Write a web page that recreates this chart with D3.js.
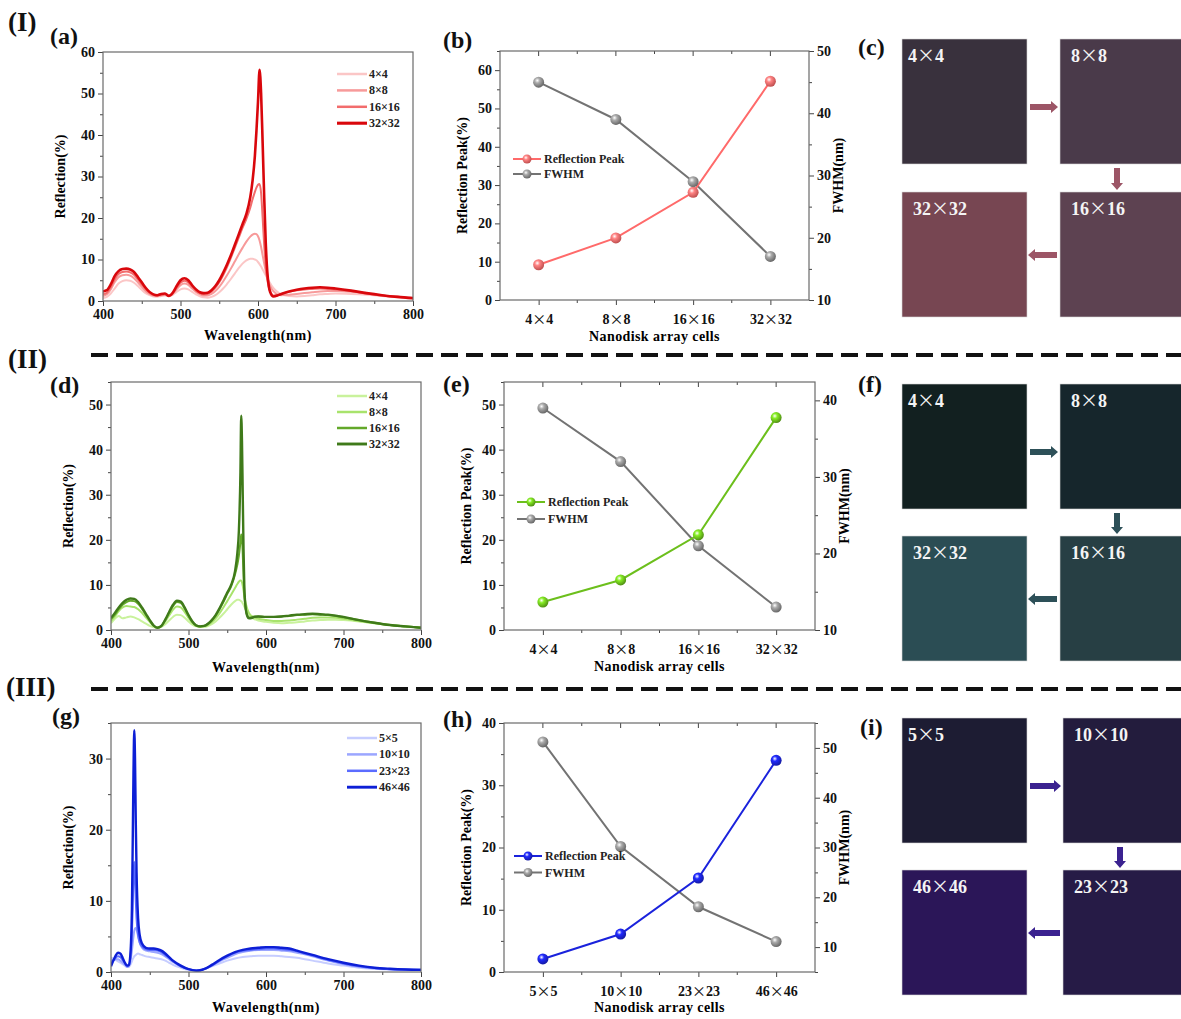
<!DOCTYPE html>
<html><head><meta charset="utf-8">
<script src="https://cdn.jsdelivr.net/npm/d3@7"></script>
<style>
body{margin:0;background:#fff}
svg{display:block}
text{font-family:"Liberation Serif","Times New Roman",serif;font-weight:bold}
</style>
</head><body>
<svg id="fig" width="1181" height="1019"></svg>
<script>
// ================= DATA =================
// Panel (a) – red spectra
const wlA = [400,405,410,415,420,425,430,435,440,445,450,455,460,465,470,475,480,485,490,495,500,505,510,515,520,525,530,535,540,545,550,555,560,565,570,575,580,585,590,593,596,598,600,602,604,606,608,610,612,614,616,618,620,625,630,640,650,660,670,680,690,700,720,740,760,780,800];
const a4  = [0.7,1.0,1.8,3.0,4.2,4.8,5.0,4.9,4.4,3.6,2.7,1.9,1.4,1.1,1.0,1.2,1.3,1.2,1.5,2.2,2.8,3.0,2.8,2.2,1.6,1.1,0.9,0.8,1.0,1.4,2.1,3.0,4.1,5.3,6.6,7.9,9.0,9.8,10.2,10.2,10.0,9.8,9.4,8.9,8.3,7.6,6.9,6.2,5.5,4.8,4.2,3.6,3.1,2.2,1.6,1.2,1.1,1.2,1.4,1.6,1.7,1.8,1.7,1.5,1.2,0.9,0.6];
const a8  = [1.2,1.6,2.8,4.5,5.7,6.2,6.3,6.1,5.5,4.5,3.4,2.4,1.7,1.3,1.2,1.4,1.5,1.3,1.7,2.8,3.8,4.2,3.9,3.0,2.2,1.6,1.3,1.3,1.7,2.4,3.4,4.7,6.2,7.8,9.5,11.2,12.8,14.3,15.5,16.0,16.2,16.1,15.6,14.6,13.0,11.0,9.0,7.2,5.6,4.4,3.5,2.8,2.3,1.6,1.4,1.5,1.7,1.9,2.1,2.3,2.4,2.4,2.2,1.8,1.3,1.0,0.7];
const a16 = [1.6,2.0,3.3,5.2,6.5,7.0,7.1,6.9,6.3,5.2,4.0,2.9,2.0,1.5,1.3,1.5,1.6,1.3,1.9,3.2,4.4,4.9,4.5,3.5,2.5,1.9,1.6,1.7,2.3,3.2,4.5,6.2,8.2,10.4,12.8,15.2,17.6,19.8,22.5,24.5,26.3,27.3,28.0,28.2,26.0,20.0,13.5,8.5,5.2,3.3,2.2,1.6,1.3,1.4,1.7,2.2,2.6,2.8,2.9,3.0,2.9,2.8,2.4,1.8,1.3,1.0,0.7];
const a32 = [2.3,2.6,4.0,6.0,7.2,7.7,7.8,7.6,7.0,5.8,4.5,3.2,2.2,1.6,1.4,1.7,1.8,1.2,2.0,3.6,5.0,5.5,5.0,3.8,2.8,2.1,1.9,2.0,2.6,3.6,5.0,6.8,8.8,11.0,13.5,16.0,18.5,21.0,25.0,29.0,35.0,41.0,48.0,55.7,50.0,38.0,25.0,14.0,7.0,3.5,2.0,1.3,1.1,1.3,1.7,2.3,2.7,3.0,3.2,3.3,3.2,3.0,2.5,1.9,1.4,1.0,0.7];
const namesA = ["4×4","8×8","16×16","32×32"];

// Panel (d) – green spectra
const wlD = [400,405,410,415,420,425,430,435,440,445,450,455,460,465,470,475,480,485,490,495,500,505,510,515,520,525,530,535,540,545,550,555,560,563,565,567,568,569,570,571,572,574,576,578,580,585,590,600,610,620,630,640,650,660,670,680,690,700,720,740,760,780,800];
const d4  = [1.5,2.5,3.1,2.6,2.8,3.0,2.8,2.4,1.9,1.4,0.9,0.6,0.5,0.7,1.3,2.1,2.9,3.4,3.3,2.7,1.9,1.2,0.8,0.7,0.7,0.9,1.3,1.9,2.7,3.6,4.6,5.6,6.4,6.7,6.7,6.5,6.4,6.2,5.9,5.6,5.2,4.5,3.9,3.4,3.0,2.4,2.1,1.8,1.6,1.5,1.6,1.7,1.9,2.1,2.2,2.3,2.3,2.2,1.9,1.5,1.1,0.8,0.5];
const d8  = [2.0,3.0,4.2,5.0,5.3,5.2,5.1,4.6,3.8,2.8,1.8,0.9,0.5,0.8,1.9,3.2,4.5,5.2,5.0,4.0,2.7,1.6,0.9,0.7,0.8,1.1,1.7,2.6,3.7,5.0,6.4,7.8,9.3,10.2,10.7,11.0,11.0,10.6,9.8,8.8,7.6,5.8,4.6,3.8,3.3,2.8,2.5,2.2,2.0,2.0,2.1,2.3,2.5,2.7,2.8,2.8,2.7,2.5,2.0,1.5,1.1,0.8,0.5];
const d16 = [2.4,3.4,4.6,5.6,6.2,6.5,6.4,5.8,4.7,3.4,2.1,1.0,0.5,0.9,2.2,3.8,5.3,6.2,6.0,4.8,3.2,1.8,1.0,0.8,0.9,1.3,2.1,3.2,4.6,6.2,8.0,9.7,12.3,14.5,16.5,19.5,21.2,20.5,17.0,12.0,8.0,4.5,3.2,2.8,2.8,3.0,3.0,2.9,2.9,3.0,3.1,3.3,3.4,3.5,3.4,3.3,3.1,2.8,2.2,1.6,1.1,0.8,0.5];
const d32 = [2.7,3.8,5.0,6.0,6.7,7.0,6.9,6.2,5.0,3.6,2.2,1.0,0.5,0.9,2.3,4.0,5.6,6.5,6.3,5.0,3.3,1.9,1.0,0.8,0.9,1.4,2.2,3.3,4.8,6.5,8.3,10.0,13.0,17.0,22.0,35.0,47.5,42.0,30.0,18.0,10.0,4.5,3.0,2.6,2.6,2.9,3.0,2.9,2.9,3.0,3.2,3.4,3.5,3.6,3.5,3.4,3.2,2.9,2.2,1.6,1.1,0.8,0.5];
const namesD = ["4×4","8×8","16×16","32×32"];

// Panel (g) – blue spectra
const wlG = [400,403,406,409,412,415,418,421,423,425,427,428,429,430,431,432,433,435,437,440,445,450,455,460,465,470,475,480,490,500,510,515,520,530,540,550,560,570,580,590,600,610,620,630,640,650,660,680,700,720,740,760,780,800];
const g5  = [2.0,1.9,1.7,1.5,1.3,1.1,0.9,0.7,0.7,1.0,1.5,1.8,2.0,2.2,2.3,2.4,2.5,2.6,2.5,2.4,2.2,2.1,2.0,1.9,1.8,1.6,1.3,1.0,0.6,0.3,0.2,0.25,0.4,0.8,1.2,1.6,1.9,2.1,2.2,2.3,2.3,2.3,2.2,2.1,2.0,1.8,1.6,1.2,0.9,0.6,0.45,0.35,0.3,0.3];
const g10 = [1.6,1.7,1.8,1.8,1.6,1.3,1.0,0.7,0.8,1.5,3.0,4.0,5.0,5.8,6.1,6.2,6.0,5.0,4.1,3.4,3.0,2.9,2.8,2.7,2.5,2.2,1.8,1.4,0.8,0.4,0.2,0.25,0.4,0.9,1.5,2.0,2.5,2.8,3.0,3.1,3.1,3.1,3.0,2.9,2.7,2.5,2.2,1.6,1.1,0.75,0.5,0.4,0.35,0.3];
const g23 = [1.2,1.6,2.0,2.2,2.1,1.7,1.2,0.8,0.9,2.0,5.5,9.0,13.5,15.5,13.5,10.0,7.5,5.2,4.2,3.6,3.2,3.1,3.1,3.0,2.8,2.4,2.0,1.5,0.8,0.4,0.2,0.25,0.4,0.9,1.6,2.2,2.7,3.0,3.1,3.2,3.3,3.3,3.2,3.1,2.9,2.6,2.3,1.7,1.2,0.8,0.55,0.4,0.35,0.3];
const g46 = [0.8,1.6,2.3,2.7,2.6,2.0,1.3,0.9,1.0,2.5,9.0,18.0,28.0,34.0,30.0,21.0,14.0,7.5,5.2,4.0,3.4,3.3,3.3,3.2,3.0,2.6,2.1,1.6,0.9,0.4,0.2,0.25,0.4,1.0,1.7,2.3,2.8,3.1,3.3,3.4,3.5,3.5,3.4,3.3,3.0,2.7,2.4,1.8,1.3,0.9,0.6,0.45,0.35,0.3];
const namesG = ["5×5","10×10","23×23","46×46"];

// Panels (b), (e), (h) – reflection peak & FWHM
const catsB = ["4×4","8×8","16×16","32×32"];
const peakB = [9.2,16.2,28.1,57.1];
const fwhmB = [45,39,29,17];
const catsE = ["4×4","8×8","16×16","32×32"];
const peakE = [6.2,11.1,21.1,47.1];
const fwhmE = [39,32,21,13];
const catsH = ["5×5","10×10","23×23","46×46"];
const peakH = [2.1,6.1,15.1,34.0];
const fwhmH = [51.2,30.2,18.1,11.1];

// Panels (c), (f), (i) – colour squares (order: top-left, top-right, bottom-right, bottom-left)
const squaresC = ["4×4","8×8","16×16","32×32"];
const squaresF = ["4×4","8×8","16×16","32×32"];
const squaresI = ["5×5","10×10","23×23","46×46"];

// ================= DRAWING =================
const svg = d3.select("#fig");
const defs = svg.append("defs");
const AX = "#444";

// write "A×B" with a wide (CJK) multiplication sign
function wideTimes(textSel, str){
  textSel.text(null);
  const parts = str.split("×");
  parts.forEach((p,i)=>{
    textSel.append("tspan").text(p);
    if(i<parts.length-1) textSel.append("tspan")
      .attr("font-family","Noto Sans CJK SC").attr("font-weight","normal").text("×");
  });
}

function styleAxis(sel, size){
  sel.attr("font-family","Liberation Serif, Times New Roman, serif")
     .attr("font-weight","bold").attr("font-size",size||14);
  sel.select(".domain").remove();
  sel.selectAll(".tick line").attr("stroke",AX).attr("stroke-width",1);
  sel.selectAll(".tick text").attr("fill","#111");
}

function spectrum(cfg){
  const g = svg.append("g");
  const x = d3.scaleLinear().domain([400,800]).range([cfg.x0,cfg.x1]);
  const y = d3.scaleLinear().domain(cfg.yDom).range([cfg.y1,cfg.y0]);
  g.append("g").attr("transform",`translate(0,${cfg.y1})`)
    .call(d3.axisBottom(x).tickValues([450,550,650,750]).tickSize(3).tickFormat(""))
    .call(s=>styleAxis(s));
  g.append("g").attr("transform",`translate(0,${cfg.y1})`)
    .call(d3.axisBottom(x).tickValues([400,500,600,700,800]).tickSize(5).tickPadding(3).tickFormat(d3.format("d")))
    .call(s=>styleAxis(s));
  const maxT = cfg.yDom[1];
  g.append("g").attr("transform",`translate(${cfg.x0},0)`)
    .call(d3.axisLeft(y).tickValues(d3.range(5,maxT+0.01,10)).tickSize(3).tickFormat(""))
    .call(s=>styleAxis(s));
  g.append("g").attr("transform",`translate(${cfg.x0},0)`)
    .call(d3.axisLeft(y).tickValues(d3.range(0,maxT+0.01,10)).tickSize(5).tickPadding(3).tickFormat(d3.format("d")))
    .call(s=>styleAxis(s));
  const clipId = "clip"+cfg.id;
  defs.append("clipPath").attr("id",clipId).append("rect")
    .attr("x",cfg.x0).attr("y",cfg.y0).attr("width",cfg.x1-cfg.x0).attr("height",cfg.y1-cfg.y0);
  const line = d3.line().x(d=>x(d[0])).y(d=>y(d[1])).curve(d3.curveMonotoneX);
  cfg.series.forEach((s,i)=>{
    g.append("path").attr("clip-path",`url(#${clipId})`)
      .datum(cfg.wl.map((w,k)=>[w,s[k]]))
      .attr("d",line).attr("fill","none").attr("stroke",cfg.colors[i])
      .attr("stroke-width",cfg.widths[i]).attr("stroke-linejoin","round");
  });
  g.append("rect").attr("x",cfg.x0).attr("y",cfg.y0).attr("width",cfg.x1-cfg.x0).attr("height",cfg.y1-cfg.y0)
    .attr("fill","none").attr("stroke","#6a6a6a").attr("stroke-width",1.2);
  cfg.names.forEach((n,i)=>{
    const ly = cfg.leg.y + i*cfg.leg.dy;
    g.append("line").attr("x1",cfg.leg.x).attr("x2",cfg.leg.x+30).attr("y1",ly).attr("y2",ly)
      .attr("stroke",cfg.colors[i]).attr("stroke-width",cfg.widths[i]+0.5);
    g.append("text").attr("x",cfg.leg.x+32).attr("y",ly+4).attr("font-size",12).attr("fill","#222").text(n);
  });
  g.append("text").attr("x",(cfg.x0+cfg.x1)/2).attr("y",cfg.xt).attr("text-anchor","middle")
    .attr("font-size",14).attr("letter-spacing",0.6).text("Wavelength(nm)");
  g.append("text").attr("transform",`translate(${cfg.x0-38},${(cfg.y0+cfg.y1)/2}) rotate(-90)`)
    .attr("text-anchor","middle").attr("font-size",14).text("Reflection(%)");
}

function sphere(id, base){
  const c = d3.color(base);
  const gr = defs.append("radialGradient").attr("id",id).attr("cx","38%").attr("cy","35%").attr("r","65%");
  gr.append("stop").attr("offset","0%").attr("stop-color","#ffffff");
  gr.append("stop").attr("offset","35%").attr("stop-color",c.brighter(0.6).formatHex());
  gr.append("stop").attr("offset","100%").attr("stop-color",c.darker(0.8).formatHex());
}

function peakChart(cfg){
  const g = svg.append("g");
  const x = d3.scalePoint().domain(cfg.cats).range([cfg.x0,cfg.x1]).padding(0.5);
  const yL = d3.scaleLinear().domain(cfg.lDom).range([cfg.y1,cfg.y0]);
  const yR = d3.scaleLinear().domain(cfg.rDom).range([cfg.y1,cfg.y0]);
  const step = x.step();
  const mids = cfg.cats.slice(0,-1).map(c=>x(c)+step/2);
  g.append("g").attr("transform",`translate(0,${cfg.y1})`)
    .call(d3.axisBottom(x).tickSize(5).tickPadding(9)).call(s=>styleAxis(s))
    .call(s=>s.selectAll(".tick text").each(function(d){ wideTimes(d3.select(this), d); }));
  const topG = g.append("g").attr("stroke",AX);
  cfg.cats.forEach(c=>topG.append("line").attr("x1",x(c)).attr("x2",x(c)).attr("y1",cfg.y0).attr("y2",cfg.y0+5));
  mids.forEach(m=>topG.append("line").attr("x1",m).attr("x2",m).attr("y1",cfg.y0).attr("y2",cfg.y0+3));
  mids.forEach(m=>topG.append("line").attr("x1",m).attr("x2",m).attr("y1",cfg.y1).attr("y2",cfg.y1+3));
  g.append("g").attr("transform",`translate(${cfg.x0},0)`)
    .call(d3.axisLeft(yL).tickValues(d3.range(5,cfg.lDom[1]+0.01,10)).tickSize(3).tickFormat(""))
    .call(s=>styleAxis(s));
  g.append("g").attr("transform",`translate(${cfg.x0},0)`)
    .call(d3.axisLeft(yL).tickValues(d3.range(0,cfg.lDom[1]+0.01,10)).tickSize(5).tickPadding(3).tickFormat(d3.format("d")))
    .call(s=>styleAxis(s));
  const rStart = Math.ceil(cfg.rDom[0]/10)*10;
  g.append("g").attr("transform",`translate(${cfg.x1},0)`)
    .call(d3.axisRight(yR).tickValues(d3.range(rStart-5,cfg.rDom[1]+0.01,10).filter(v=>v>=cfg.rDom[0])).tickSize(3).tickFormat(""))
    .call(s=>styleAxis(s));
  g.append("g").attr("transform",`translate(${cfg.x1},0)`)
    .call(d3.axisRight(yR).tickValues(d3.range(rStart,cfg.rDom[1]+0.01,10)).tickSize(5).tickPadding(3).tickFormat(d3.format("d")))
    .call(s=>styleAxis(s));
  sphere("sp"+cfg.id, cfg.color);
  sphere("sg"+cfg.id, "#8a8a8a");
  const lnP = d3.line().x((d,i)=>x(cfg.cats[i])).y(d=>yL(d));
  const lnF = d3.line().x((d,i)=>x(cfg.cats[i])).y(d=>yR(d));
  g.append("path").attr("d",lnF(cfg.fwhm)).attr("fill","none").attr("stroke","#737373").attr("stroke-width",2);
  g.append("path").attr("d",lnP(cfg.peak)).attr("fill","none").attr("stroke",cfg.color).attr("stroke-width",2);
  cfg.fwhm.forEach((v,i)=>g.append("circle").attr("cx",x(cfg.cats[i])).attr("cy",yR(v)).attr("r",5.5).attr("fill",`url(#sg${cfg.id})`));
  cfg.peak.forEach((v,i)=>g.append("circle").attr("cx",x(cfg.cats[i])).attr("cy",yL(v)).attr("r",5.5).attr("fill",`url(#sp${cfg.id})`));
  g.append("rect").attr("x",cfg.x0).attr("y",cfg.y0).attr("width",cfg.x1-cfg.x0).attr("height",cfg.y1-cfg.y0)
    .attr("fill","none").attr("stroke","#6a6a6a").attr("stroke-width",1.2);
  const L = cfg.leg;
  [["Reflection Peak",cfg.color,`url(#sp${cfg.id})`],["FWHM","#737373",`url(#sg${cfg.id})`]].forEach((e,i)=>{
    const ly = L.y + i*L.dy;
    g.append("line").attr("x1",L.x).attr("x2",L.x+28).attr("y1",ly).attr("y2",ly).attr("stroke",e[1]).attr("stroke-width",2);
    g.append("circle").attr("cx",L.x+14).attr("cy",ly).attr("r",4.5).attr("fill",e[2]);
    g.append("text").attr("x",L.x+31).attr("y",ly+4).attr("font-size",12).attr("fill","#222").text(e[0]);
  });
  g.append("text").attr("x",(cfg.x0+cfg.x1)/2).attr("y",cfg.xt).attr("text-anchor","middle")
    .attr("font-size",14).attr("letter-spacing",0.4).text("Nanodisk array cells");
  g.append("text").attr("transform",`translate(${cfg.x0-33},${(cfg.y0+cfg.y1)/2}) rotate(-90)`)
    .attr("text-anchor","middle").attr("font-size",14).text("Reflection Peak(%)");
  g.append("text").attr("transform",`translate(${cfg.x1+34},${(cfg.y0+cfg.y1)/2}) rotate(-90)`)
    .attr("text-anchor","middle").attr("font-size",14).text("FWHM(nm)");
}

function arrow(g, x1, y1, x2, y2, color){
  const ang = Math.atan2(y2-y1, x2-x1);
  const len = Math.hypot(x2-x1, y2-y1);
  const sh = 3, hh = 6, hl = 7;
  const pts = [[0,-sh],[len-hl,-sh],[len-hl,-hh],[len,0],[len-hl,hh],[len-hl,sh],[0,sh]];
  g.append("polygon").attr("points",pts.map(p=>p.join(",")).join(" "))
    .attr("transform",`translate(${x1},${y1}) rotate(${ang*180/Math.PI})`).attr("fill",color);
}

function squares(cfg){
  const g = svg.append("g");
  const S = 125;
  const pos = [[cfg.xl,cfg.yt],[cfg.xr,cfg.yt],[cfg.xr,cfg.yb],[cfg.xl,cfg.yb]];
  const offs = [6,11,11,11];
  cfg.labels.forEach((lab,i)=>{
    g.append("rect").attr("x",pos[i][0]).attr("y",pos[i][1]).attr("width",S).attr("height",S)
      .attr("fill",cfg.colors[i]).attr("stroke","#d8d8d8").attr("stroke-width",0.6);
    const t = g.append("text").attr("x",pos[i][0]+offs[i]).attr("y",pos[i][1]+23).attr("font-size",18)
      .attr("fill","#f4f4f4");
    wideTimes(t, lab);
  });
  arrow(g, cfg.xl+S+3, cfg.yt+68, cfg.xr-2, cfg.yt+68, cfg.arrow);
  arrow(g, cfg.xr+57, cfg.yt+S+4, cfg.xr+57, cfg.yb-2, cfg.arrow);
  arrow(g, cfg.xr-3, cfg.yb+63, cfg.xl+S+1, cfg.yb+63, cfg.arrow);
}

function label(t, x, y, size){
  svg.append("text").attr("x",x).attr("y",y).attr("font-size",size).attr("fill","#111").text(t);
}

// ----- Row I -----
spectrum({id:"a", x0:103, x1:413, y0:52, y1:301, yDom:[0,60], wl:wlA, series:[a4,a8,a16,a32],
  names:namesA, colors:["#fbc6c6","#f79a9a","#f26c6c","#d9070c"], widths:[2,2,2,2.6],
  leg:{x:337,y:74,dy:16.4}, xt:340});
peakChart({id:"b", x0:500, x1:809, y0:51, y1:300, lDom:[0,65], rDom:[10,50], cats:catsB, peak:peakB, fwhm:fwhmB,
  color:"#ff6a6a", leg:{x:513,y:159,dy:15}, xt:341});
squares({xl:902, xr:1060, yt:39, yb:192, labels:squaresC,
  colors:["#39313d","#4a3a4a","#5d4251","#774652"], arrow:"#9c5566"});

// ----- Row II -----
spectrum({id:"d", x0:111, x1:421, y0:382, y1:630, yDom:[0,55], wl:wlD, series:[d4,d8,d16,d32],
  names:namesD, colors:["#c9f29c","#a8e36c","#63a82a","#3f7a1a"], widths:[2,2,2,2.4],
  leg:{x:337,y:396,dy:16}, xt:672});
peakChart({id:"e", x0:504, x1:815, y0:382, y1:630, lDom:[0,55], rDom:[10,42.4], cats:catsE, peak:peakE, fwhm:fwhmE,
  color:"#6cbf1c", leg:{x:517,y:502,dy:17}, xt:671});
squares({xl:902, xr:1060, yt:384, yb:536, labels:squaresF,
  colors:["#122020","#16262c","#273f44","#2b4d54"], arrow:"#2d5058"});

// ----- Row III -----
spectrum({id:"g", x0:111, x1:421, y0:723, y1:972, yDom:[0,35], wl:wlG, series:[g5,g10,g23,g46],
  names:namesG, colors:["#c6cdff","#9ba6ff","#5b6cff","#0d1fd6"], widths:[2,2,2,2.4],
  leg:{x:347,y:738,dy:16.4}, xt:1012});
peakChart({id:"h", x0:504, x1:815, y0:723, y1:972, lDom:[0,40], rDom:[5,55], cats:catsH, peak:peakH, fwhm:fwhmH,
  color:"#1a22dc", leg:{x:514,y:856,dy:16.5}, xt:1012});
squares({xl:902, xr:1063, yt:718, yb:870, labels:squaresI,
  colors:["#1d1c33","#231c3d","#261b46","#2b1658"], arrow:"#3b2290"});

// ----- separators -----
[355,689].forEach(yy=>{
  svg.append("line").attr("x1",91).attr("x2",1181).attr("y1",yy).attr("y2",yy)
    .attr("stroke","#111").attr("stroke-width",4).attr("stroke-dasharray","17,8");
});

// ----- panel labels -----
label("(I)",8,31,27);
label("(II)",8,368,27);
label("(III)",6,696,27);
label("(a)",50,44,24);
label("(b)",443,48,24);
label("(c)",858,55,24);
label("(d)",50,393,24);
label("(e)",443,392,24);
label("(f)",858,392,24);
label("(g)",52,724,24);
label("(h)",443,727,24);
label("(i)",860,735,24);
</script>
</body></html>
